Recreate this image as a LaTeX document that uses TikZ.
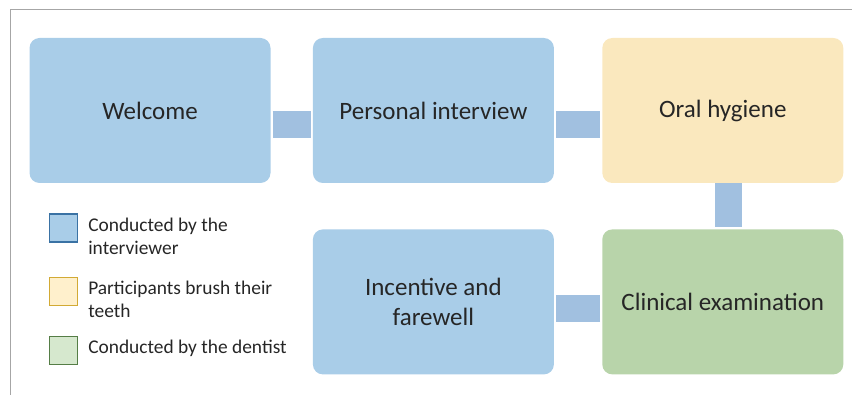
\documentclass[tikz,border=0pt]{standalone}
\usepackage{fontspec}
\setmainfont{Carlito}
\usetikzlibrary{positioning}

\definecolor{stepblue}{HTML}{A9CDE8}
\definecolor{linkblue}{HTML}{A1C0E0}
\definecolor{stepyellow}{HTML}{FAE8BE}
\definecolor{stepgreen}{HTML}{B8D4AA}
\definecolor{keyblueline}{HTML}{3A72A4}
\definecolor{keyyellow}{HTML}{FFF0CC}
\definecolor{keyyellowline}{HTML}{D2AA34}
\definecolor{keygreen}{HTML}{D6E8CE}
\definecolor{keygreenline}{HTML}{557D46}
\definecolor{textgray}{HTML}{262626}
\definecolor{framegray}{HTML}{A6A6A6}

\begin{document}
\begin{tikzpicture}[
	x=1pt, y=-1pt,
	stepbox/.style = {
		rectangle, rounded corners=10pt,
		minimum width=241pt,
		minimum height=145pt,
		inner sep=0pt,
		align=center,
		text=textgray,
		font=\fontsize{25}{30.5}\selectfont,
	},
	link/.style = {line width=27pt, linkblue},
	key/.style = {draw, line width=1.2pt, minimum size=28pt, inner sep=0pt},
	keytext/.style = {
		anchor=north west, align=left, inner sep=0pt,
		text=textgray,
		font=\fontsize{19.4}{23}\selectfont,
	},
]
\useasboundingbox (0,0) rectangle (852,395);

% frame
\draw[framegray, line width=1pt] (852,10) -- (10,10) -- (10,395);

% Steps, top row left to right
\node [stepbox, fill=stepblue] (welcome) at (150,110.5) {Welcome};
\node [stepbox, fill=stepblue, right=42pt of welcome] (interview) {Personal interview};
\node [stepbox, fill=stepyellow, right=48pt of interview] (hygiene) {Oral hygiene};

% bottom row, right to left
\node [stepbox, fill=stepgreen, below=46pt of hygiene] (exam) {Clinical examination};
\node [stepbox, fill=stepblue, left=48pt of exam] (farewell) {Incentive and\\farewell};

% Links between steps
\draw[link] ([xshift=2pt,yshift=-14pt]welcome.east) -- ([xshift=-2pt,yshift=-14pt]interview.west);
\draw[link] ([xshift=2pt,yshift=-14pt]interview.east) -- ([xshift=-2pt,yshift=-14pt]hygiene.west);
\draw[link] ([xshift=6pt]hygiene.south) -- ([xshift=6pt,yshift=2pt]exam.north);
\draw[link] ([xshift=-2pt,yshift=-6.5pt]exam.west) -- ([xshift=2pt,yshift=-6.5pt]farewell.east);

% Legend
\node [key, draw=keyblueline, fill=stepblue] (kblue) at (63.5,228) {};
\node [key, draw=keyyellowline, fill=keyyellow] (kyellow) at (63.5,291.5) {};
\node [key, draw=keygreenline, fill=keygreen] (kgreen) at (63.5,350.5) {};

\node [keytext] (tblue) at ([xshift=10pt,yshift=-4pt]kblue.north east) {Conducted by the\\interviewer};
\node [keytext] (tyellow) at ([xshift=10pt,yshift=-4pt]kyellow.north east) {Participants brush their\\teeth};
\node [keytext] (tgreen) at ([xshift=10pt,yshift=-4pt]kgreen.north east) {Conducted by the dentist};

\end{tikzpicture}
\end{document}
